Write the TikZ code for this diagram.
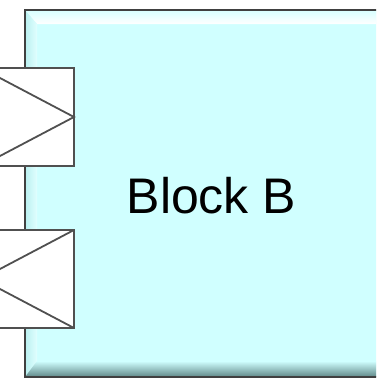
\documentclass[tikz,border=0pt]{standalone}
\usepackage{fontspec}
\setmainfont{Liberation Sans}
\begin{document}
\begin{tikzpicture}[x=1pt,y=-1pt,
  blockfill/.style={fill={rgb,255:red,208;green,255;blue,255}},
  edge/.style={draw={rgb,255:red,64;green,64;blue,64}, line width=2.5pt},
  portbox/.style={draw={rgb,255:red,80;green,80;blue,80}, line width=1.8pt, fill=white,
    rectangle, inner sep=0pt, outer sep=0pt, minimum width=93pt, minimum height=98pt},
  portline/.style={draw={rgb,255:red,80;green,80;blue,80}, line width=1.8pt, line join=miter},
  label/.style={font=\fontsize{50}{50}\selectfont, inner sep=0pt}]
\useasboundingbox (0,0) rectangle (376,378);
\clip (0,0) rectangle (376,378);

% main block with bevelled rim
\node[blockfill, rectangle, inner sep=0pt, outer sep=0pt, minimum width=375pt,
  minimum height=367pt, anchor=north west] (blk) at (25,10) {};
\shade[top color={rgb,255:red,215;green,255;blue,255}, bottom color=white]
  (blk.north west) -- (blk.north east) -- ([yshift=-14pt]blk.north east)
  -- ([xshift=12pt,yshift=-14pt]blk.north west) -- cycle;
\shade[left color={rgb,255:red,185;green,240;blue,240},
  right color={rgb,255:red,225;green,255;blue,255}]
  (blk.north west) -- ([xshift=12pt,yshift=-14pt]blk.north west)
  -- ([xshift=12pt,yshift=13pt]blk.south west) -- (blk.south west) -- cycle;
\shade[top color={rgb,255:red,208;green,255;blue,255},
  bottom color={rgb,255:red,95;green,135;blue,135}]
  ([xshift=12pt,yshift=16pt]blk.south west) -- ([yshift=16pt]blk.south east)
  -- (blk.south east) -- (blk.south west) -- cycle;
\path[edge] (blk.north east) -- (blk.north west) -- (blk.south west) -- (blk.south east);

\node[label] (lbl) at (211.5,196) {Block B};

% input port (arrow pointing in)
\node[portbox] (pin) at (27.5,117) {};
\path[portline] (pin.north west) -- (pin.east) -- (pin.south west);

% output port (arrow pointing out)
\node[portbox] (pout) at (27.5,279) {};
\path[portline] (pout.north east) -- (pout.west) -- (pout.south east);
\end{tikzpicture}
\end{document}
